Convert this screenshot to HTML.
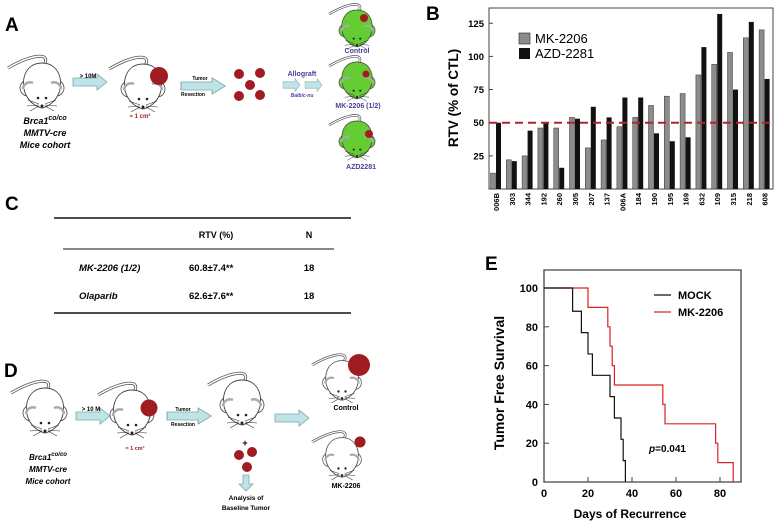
<!DOCTYPE html>
<html><head><meta charset="utf-8"><style>
body{margin:0;background:#fff;}
svg{display:block;font-family:"Liberation Sans",Arial,sans-serif;}
.b{font-weight:bold;}
</style></head><body>
<svg id="fig" width="776" height="528" viewBox="0 0 776 528" xmlns="http://www.w3.org/2000/svg">
<defs>
<g id="mouse">
<path d="M2,-20 C10,-34 -12,-30 -34,-17" fill="none" stroke="#555" stroke-width="3"/>
<path d="M2,-20 C10,-34 -12,-30 -34,-17" fill="none" stroke="#fff" stroke-width="1.4"/>
<circle cx="-14" cy="3" r="8" fill="currentColor" stroke="#444" stroke-width="0.8"/>
<circle cx="14" cy="3" r="8" fill="currentColor" stroke="#444" stroke-width="0.8"/>
<path d="M0,-22 C18,-22 22,-2 16,10 C12,18 5,22 0,23 C-5,22 -12,18 -16,10 C-22,-2 -18,-22 0,-22Z" fill="currentColor" stroke="#444" stroke-width="0.9"/>
<path d="M-19,4 a7,7 0 0 1 10,-6" fill="none" stroke="#aaa" stroke-width="2.5"/>
<path d="M19,4 a7,7 0 0 0 -10,-6" fill="none" stroke="#aaa" stroke-width="2.5"/>
<circle cx="-4" cy="13" r="1.3" fill="#222"/><circle cx="4" cy="13" r="1.3" fill="#222"/>
<circle cx="0" cy="21" r="1.5" fill="#222"/>
<path d="M-3,19 L-14,15 M-3,20 L-15,21 M-3,21 L-12,26 M3,19 L14,15 M3,20 L15,21 M3,21 L12,26" stroke="#333" stroke-width="0.6"/>
</g>
<g id="arr"><path d="M0,-4 H24 V-8 L34,0 L24,8 V4 H0Z" fill="#bfe3e6" stroke="#7aa" stroke-width="0.8"/></g>
</defs>

<!-- Panel A -->
<g>
<text x="5" y="31" font-size="19" class="b">A</text>
<use href="#mouse" x="42" y="85" color="#fff"/>
<text x="45" y="124" font-size="9" class="b" font-style="italic" text-anchor="middle">Brca1<tspan dy="-4" font-size="7">co/co</tspan></text>
<text x="45" y="136" font-size="9" class="b" font-style="italic" text-anchor="middle">MMTV-cre</text>
<text x="45" y="148" font-size="9" class="b" font-style="italic" text-anchor="middle">Mice cohort</text>
<use href="#arr" x="73" y="82"/>
<text x="88" y="78" font-size="6" class="b" text-anchor="middle">&gt; 10M</text>
<use href="#mouse" x="143" y="86" color="#fff"/>
<circle cx="159" cy="76" r="9" fill="#a11b22"/>
<text x="140" y="118" font-size="6" class="b" fill="#a11b22" text-anchor="middle">≈ 1 cm³</text>
<g transform="translate(181,86) scale(1.3,1)"><use href="#arr"/></g>
<text x="200" y="80" font-size="5" class="b" text-anchor="middle">Tumor</text>
<text x="193" y="96" font-size="5" class="b" text-anchor="middle">Resection</text>
<g fill="#a11b22">
<circle cx="239" cy="74" r="5"/><circle cx="260" cy="73" r="5"/><circle cx="250" cy="85" r="5"/><circle cx="239" cy="96" r="5"/><circle cx="260" cy="95" r="5"/></g>
<text x="302" y="76" font-size="7" class="b" fill="#4a3e9a" text-anchor="middle">Allograft</text>
<g transform="translate(283,85) scale(0.5,0.8)"><use href="#arr"/></g>
<g transform="translate(305,85) scale(0.5,0.8)"><use href="#arr"/></g>
<text x="302" y="97" font-size="5" class="b" font-style="italic" fill="#4a3e9a" text-anchor="middle">Balb/c-nu</text>
<g transform="translate(357,28) scale(0.82)"><use href="#mouse" color="#66cc33"/></g>
<circle cx="364" cy="18" r="4" fill="#a11b22"/>
<text x="357" y="53" font-size="7" class="b" fill="#4a3e9a" text-anchor="middle">Control</text>
<g transform="translate(357,80) scale(0.82)"><use href="#mouse" color="#66cc33"/></g>
<circle cx="366" cy="74" r="3.5" fill="#a11b22"/>
<text x="358" y="108" font-size="7" class="b" fill="#4a3e9a" text-anchor="middle">MK-2206 (1/2)</text>
<g transform="translate(357,139) scale(0.82)"><use href="#mouse" color="#66cc33"/></g>
<circle cx="369" cy="134" r="4" fill="#a11b22"/>
<text x="361" y="169" font-size="7" class="b" fill="#4a3e9a" text-anchor="middle">AZD2281</text>
</g>

<!-- Panel C -->
<g>
<text x="5" y="210" font-size="19" class="b">C</text>
<line x1="54" y1="218" x2="351" y2="218" stroke="#111" stroke-width="1.5"/>
<text x="216" y="238" font-size="9" class="b" text-anchor="middle">RTV (%)</text>
<text x="309" y="238" font-size="9" class="b" text-anchor="middle">N</text>
<line x1="63" y1="249" x2="334" y2="249" stroke="#111" stroke-width="1"/>
<text x="79" y="271" font-size="9.5" class="b" font-style="italic">MK-2206 (1/2)</text>
<text x="189" y="271" font-size="9.5" class="b">60.8±7.4**</text>
<text x="309" y="271" font-size="9.5" class="b" text-anchor="middle">18</text>
<text x="79" y="299" font-size="9.5" class="b" font-style="italic">Olaparib</text>
<text x="189" y="299" font-size="9.5" class="b">62.6±7.6**</text>
<text x="309" y="299" font-size="9.5" class="b" text-anchor="middle">18</text>
<line x1="54" y1="313" x2="351" y2="313" stroke="#111" stroke-width="1.5"/>
</g>

<!-- Panel D -->
<g>
<text x="4" y="377" font-size="19" class="b">D</text>
<use href="#mouse" x="45" y="410" color="#fff"/>
<text x="48" y="460" font-size="8" class="b" font-style="italic" text-anchor="middle">Brca1<tspan dy="-4" font-size="6">co/co</tspan></text>
<text x="48" y="472" font-size="8" class="b" font-style="italic" text-anchor="middle">MMTV-cre</text>
<text x="48" y="484" font-size="8" class="b" font-style="italic" text-anchor="middle">Mice cohort</text>
<use href="#arr" x="76" y="416"/>
<text x="91" y="411" font-size="6" class="b" text-anchor="middle">&gt; 10 M</text>
<use href="#mouse" x="132" y="412" color="#fff"/>
<circle cx="149" cy="408" r="8.5" fill="#a11b22"/>
<text x="135" y="450" font-size="5.5" class="b" fill="#a11b22" text-anchor="middle">≈ 1 cm³</text>
<g transform="translate(167,416) scale(1.3,1)"><use href="#arr"/></g>
<text x="183" y="411" font-size="5" class="b" text-anchor="middle">Tumor</text>
<text x="183" y="426" font-size="5" class="b" text-anchor="middle">Resection</text>
<use href="#mouse" x="242" y="402" color="#fff"/>
<text x="245" y="446" font-size="9" class="b" text-anchor="middle">+</text>
<g fill="#a11b22"><circle cx="239" cy="455" r="5"/><circle cx="252" cy="452" r="5"/><circle cx="247" cy="467" r="5"/></g>
<path d="M243,475 h6 v9 h4 l-7,7 l-7,-7 h4z" fill="#bfe3e6" stroke="#7aa" stroke-width="0.8"/>
<text x="246" y="500" font-size="6.5" class="b" text-anchor="middle">Analysis of</text>
<text x="246" y="510" font-size="6.5" class="b" text-anchor="middle">Baseline Tumor</text>
<use href="#arr" x="275" y="418"/>
<g transform="translate(342,380) scale(0.88)"><use href="#mouse" color="#fff"/></g>
<circle cx="359" cy="365" r="11" fill="#a11b22"/>
<text x="346" y="410" font-size="7" class="b" text-anchor="middle">Control</text>
<g transform="translate(342,457) scale(0.88)"><use href="#mouse" color="#fff"/></g>
<circle cx="360" cy="442" r="5.5" fill="#a11b22"/>
<text x="346" y="488" font-size="7" class="b" text-anchor="middle">MK-2206</text>
</g>

<!-- Panel B chart -->
<g id="chartB">
<text x="426" y="20" font-size="19" class="b">B</text>
<rect x="489" y="8" width="284" height="181" fill="none" stroke="#444" stroke-width="1"/>
<text transform="translate(458,98) rotate(-90)" font-size="13.5" class="b" text-anchor="middle">RTV (% of CTL)</text>
<rect x="519" y="33" width="11" height="11" fill="#8c8c8c" stroke="#222" stroke-width="0.6"/>
<text x="535" y="43" font-size="13">MK-2206</text>
<rect x="519" y="48" width="11" height="11" fill="#111"/>
<text x="535" y="58" font-size="13">AZD-2281</text>
</g>

<!-- Panel E chart -->
<g id="chartE">
<text x="485" y="270" font-size="19" class="b">E</text>
<text transform="translate(504,383) rotate(-90)" font-size="14" class="b" text-anchor="middle">Tumor Free Survival</text>
<text x="630" y="518" font-size="12" class="b" text-anchor="middle">Days of Recurrence</text>
<line x1="654" y1="295" x2="671" y2="295" stroke="#111" stroke-width="1.2"/>
<text x="678" y="299" font-size="11" class="b">MOCK</text>
<line x1="654" y1="312" x2="671" y2="312" stroke="#d22" stroke-width="1.2"/>
<text x="678" y="316" font-size="11" class="b">MK-2206</text>
<text x="649" y="452" font-size="10" class="b"><tspan font-style="italic">p</tspan>=0.041</text>
</g>
</svg>
<script>
const ns="http://www.w3.org/2000/svg";
// ---- Panel B data ----
const bCategories=["006B","303","344","192","260","305","207","137","006A","184","190","195","169","632","109","315","218","608"];
const bMK2206=[12,22,25,46,46,54,31,37,47,54,63,70,72,86,94,103,114,120];
const bAZD2281=[50,21,44,50,16,53,62,54,69,69,42,36,39,107,132,75,126,83];
const bTicks=[25,50,75,100,125];
const bThreshold=50;
// ---- Panel E data ----
const eMockDays=[0,13,17,20,22,30,32,35,36,37];
const eMockSurv=[100,88,77,66,55,44,33,22,11,0];
const eMkDays=[0,20,29,30,31,32,54,55,78,79,86];
const eMkSurv=[100,90,80,70,60,50,40,30,20,10,0];
const eXTicks=[0,20,40,60,80];
const eYTicks=[0,20,40,60,80,100];

function mk(tag,attrs,parent){const e=document.createElementNS(ns,tag);for(const k in attrs)e.setAttribute(k,attrs[k]);parent.appendChild(e);return e;}

// Chart B
const gB=document.getElementById('chartB');
const bY0=189, bScale=1.326, bX0=496, bStep=15.8;
const byv=v=>bY0-v*bScale;
const bxc=i=>bX0+i*bStep;
bTicks.forEach(t=>{
  const l=mk('line',{x1:489,x2:493,y1:byv(t),y2:byv(t),stroke:'#444'},gB);
  
  
  const tx=mk('text',{x:484,y:byv(t)+3.5,'font-size':9.5,'font-weight':'bold','text-anchor':'end'},gB);
  tx.textContent=t;
  
  
});
bCategories.forEach((c,i)=>{
  const x=bxc(i);
  const r1=mk('rect',{x:x-5.5,y:byv(bMK2206[i]),width:5,height:bMK2206[i]*bScale,fill:'#8c8c8c',stroke:'#333','stroke-width':0.5},gB);
  
  
  const r2=mk('rect',{x:x,y:byv(bAZD2281[i]),width:5,height:bAZD2281[i]*bScale,fill:'#111'},gB);
  
  
  const tx=mk('text',{transform:`translate(${x+3},193) rotate(-90)`,'font-size':7.5,'font-weight':'bold','text-anchor':'end'},gB);
  tx.textContent=c;
  
  
});
const dl=mk('line',{x1:489,x2:773,y1:byv(bThreshold),y2:byv(bThreshold),stroke:'#b5202e','stroke-width':2,'stroke-dasharray':'8,5'},gB);



// Chart E
const gE=document.getElementById('chartE');
const eX0=544, eXs=2.2, eY0=482, eYs=1.94;
const ex=d=>eX0+d*eXs, ey=v=>eY0-v*eYs;
const frame=mk('path',{d:`M${eX0},270 H741 V${eY0} H${eX0} Z`,fill:'none',stroke:'#444','stroke-width':1.3},gE);


eXTicks.forEach(t=>{
  mk('line',{x1:ex(t),x2:ex(t),y1:eY0,y2:eY0-5,stroke:'#444'},gE);
  const tx=mk('text',{x:ex(t),y:eY0+15,'font-size':11,'font-weight':'bold','text-anchor':'middle'},gE);
  tx.textContent=t;
  
  
});
eYTicks.forEach(t=>{
  mk('line',{x1:eX0,x2:eX0+5,y1:ey(t),y2:ey(t),stroke:'#444'},gE);
  const tx=mk('text',{x:eX0-6,y:ey(t)+4,'font-size':11,'font-weight':'bold','text-anchor':'end'},gE);
  tx.textContent=t;
  
  
});
function stepPath(days,surv){
  let d=`M${ex(days[0])},${ey(surv[0])}`;
  for(let i=1;i<days.length;i++){d+=` H${ex(days[i])} V${ey(surv[i])}`;}
  return d;
}
const pm=mk('path',{d:stepPath(eMkDays,eMkSurv),fill:'none',stroke:'#d22','stroke-width':1.2},gE);


const pc=mk('path',{d:stepPath(eMockDays,eMockSurv),fill:'none',stroke:'#111','stroke-width':1.2},gE);


</script>
</body></html>
